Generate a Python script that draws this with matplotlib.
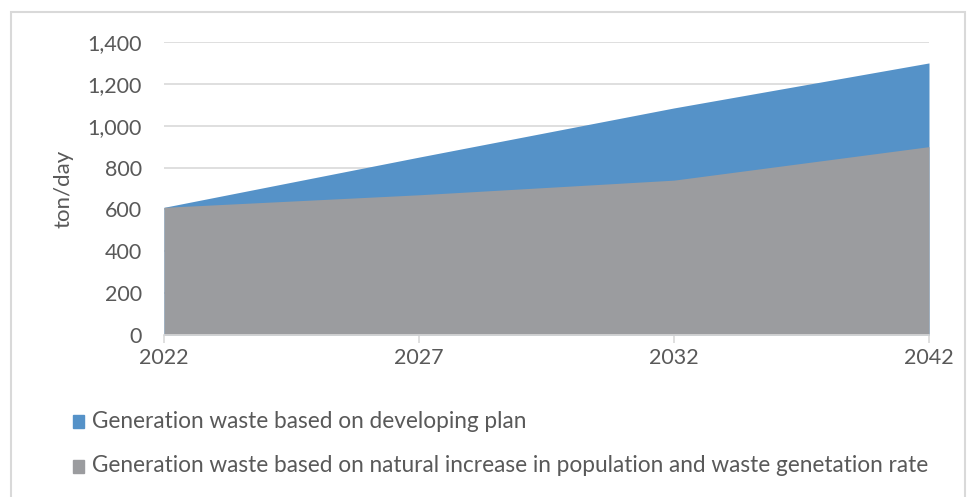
import matplotlib.pyplot as plt
from matplotlib.patches import Rectangle
from matplotlib.ticker import FuncFormatter

# ---------------------------------------------------------------------
# Data (ton/day)
# ---------------------------------------------------------------------
years = ["2022", "2027", "2032", "2042"]
natural_increase = [610, 670, 740, 900]
developing_plan = [610, 850, 1085, 1300]

BLUE = "#5592c8"
GRAY = "#9b9c9f"
TEXT = "#595959"
GRID = "#d9d9d9"

plt.rcParams["font.family"] = ["Lato", "DejaVu Sans"]

fig = plt.figure(figsize=(9.71, 4.97), dpi=100)
ax = fig.add_axes([164 / 971, 1 - 335 / 497, (929 - 164) / 971, (335 - 42) / 497])

x = range(len(years))
ax.fill_between(x, 0, developing_plan, color=BLUE, linewidth=0, zorder=2)
ax.fill_between(x, 0, natural_increase, color=GRAY, linewidth=0, zorder=3)

ax.set_xlim(0, len(years) - 1)
ax.set_ylim(0, 1400)
ax.set_yticks(range(0, 1401, 200))
ax.yaxis.set_major_formatter(FuncFormatter(lambda v, _: f"{int(v):,}"))
ax.set_xticks(list(x))
ax.set_xticklabels(years)

ax.grid(axis="y", color=GRID, linewidth=1.2, zorder=1)
for side in ["top", "right", "left"]:
    ax.spines[side].set_visible(False)
ax.spines["bottom"].set_color(GRID)
ax.spines["bottom"].set_linewidth(1.2)
ax.spines["bottom"].set_zorder(4)

ax.tick_params(axis="y", length=0, pad=16, labelsize=15.5, labelcolor=TEXT)
ax.tick_params(axis="x", length=6, color=GRID, width=1.2, pad=3, labelsize=15.5, labelcolor=TEXT)

ax.set_ylabel("ton/day", fontsize=16, color=TEXT, labelpad=10)

# legend entries stacked under the chart
legend_items = [
    (BLUE, "Generation waste based on developing plan", 421),
    (GRAY, "Generation waste based on natural increase in population and waste genetation rate", 466),
]
for color, label, y in legend_items:
    fig.patches.append(Rectangle((73 / 971, 1 - (y + 7) / 497), 11 / 971, 13 / 497,
                                 transform=fig.transFigure, color=color))
    fig.text(92 / 971, 1 - y / 497, label, fontsize=16.3, color=TEXT, va="center", ha="left")

# outer chart border
fig.patches.append(Rectangle((11 / 971, -0.01), (965 - 11) / 971, 1 - 12 / 497 + 0.01,
                             transform=fig.transFigure, fill=False, edgecolor=GRID, linewidth=1.5))

fig.savefig("out.png", dpi=100)
